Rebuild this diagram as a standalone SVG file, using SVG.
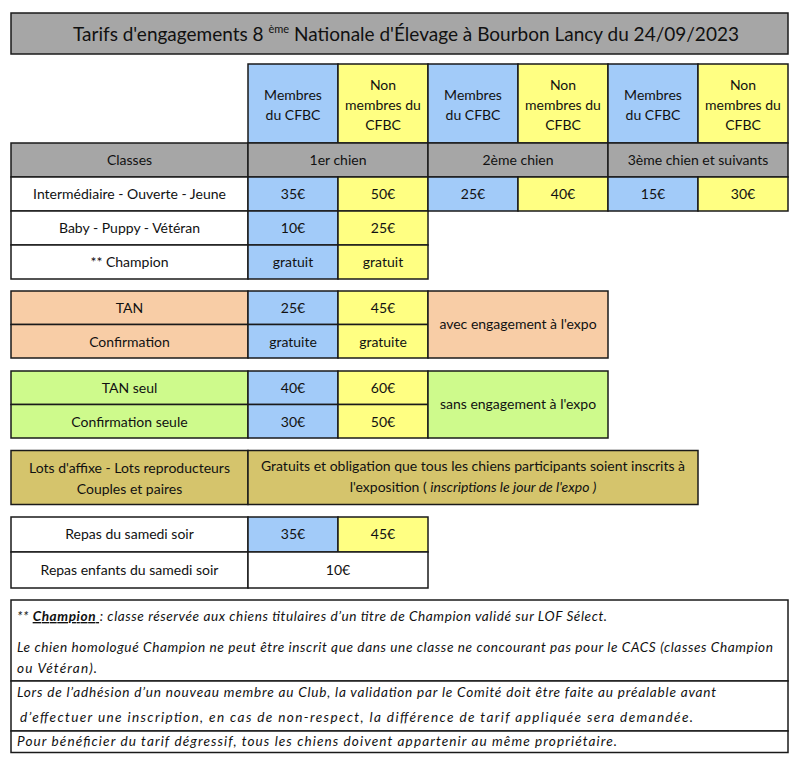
<svg xmlns="http://www.w3.org/2000/svg" width="800" height="764" viewBox="0 0 800 764">
<style>
rect{stroke:#1a1a1a;stroke-width:1.5}
.g{fill:#a6a6a6}.b{fill:#a2cbf9}.y{fill:#ffff82}.w{fill:#ffffff}.o{fill:#f8cda6}.gr{fill:#cefa8c}.ol{fill:#d5c46c}
text{font-family:Lato,"Liberation Sans",sans-serif;font-size:14px;fill:#111;text-anchor:middle}
.n{font-style:italic;text-anchor:start;font-size:13.6px}
.ti{font-size:19px;text-anchor:start}
</style>
<rect x="0" y="0" width="800" height="764" style="fill:#fff;stroke:none"/>
<g id="title">
<rect class="g" x="11" y="13" width="777" height="41"/>
<text class="ti" x="73" y="41">Tarifs d'engagements 8 <tspan font-size="11" dy="-8">ème</tspan><tspan dy="8"> Nationale d'Élevage à Bourbon Lancy du 24/09/2023</tspan></text>
</g>
<g id="header">
<rect class="b" x="248" y="64" width="90" height="79"/>
<rect class="y" x="338" y="64" width="90" height="79"/>
<rect class="b" x="428" y="64" width="90" height="79"/>
<rect class="y" x="518" y="64" width="90" height="79"/>
<rect class="b" x="608" y="64" width="90" height="79"/>
<rect class="y" x="698" y="64" width="90" height="79"/>
<text x="293" y="100">Membres</text><text x="293" y="120">du CFBC</text>
<text x="383" y="90">Non</text><text x="383" y="110">membres du</text><text x="383" y="130">CFBC</text>
<text x="473" y="100">Membres</text><text x="473" y="120">du CFBC</text>
<text x="563" y="90">Non</text><text x="563" y="110">membres du</text><text x="563" y="130">CFBC</text>
<text x="653" y="100">Membres</text><text x="653" y="120">du CFBC</text>
<text x="743" y="90">Non</text><text x="743" y="110">membres du</text><text x="743" y="130">CFBC</text>
</g>
<g id="classes">
<rect class="g" x="11" y="143" width="237" height="34"/>
<rect class="g" x="248" y="143" width="180" height="34"/>
<rect class="g" x="428" y="143" width="180" height="34"/>
<rect class="g" x="608" y="143" width="180" height="34"/>
<text x="129.5" y="165">Classes</text>
<text x="338" y="165">1er chien</text>
<text x="518" y="165">2ème chien</text>
<text x="698" y="165">3ème chien et suivants</text>
</g>
<g id="row-intermediaire">
<rect class="w" x="11" y="177" width="237" height="34"/>
<rect class="b" x="248" y="177" width="90" height="34"/>
<rect class="y" x="338" y="177" width="90" height="34"/>
<rect class="b" x="428" y="177" width="90" height="34"/>
<rect class="y" x="518" y="177" width="90" height="34"/>
<rect class="b" x="608" y="177" width="90" height="34"/>
<rect class="y" x="698" y="177" width="90" height="34"/>
<text x="129.5" y="199">Intermédiaire - Ouverte - Jeune</text>
<text x="293" y="199">35€</text><text x="383" y="199">50€</text>
<text x="473" y="199">25€</text><text x="563" y="199">40€</text>
<text x="653" y="199">15€</text><text x="743" y="199" font-size="15">30€</text>
</g>
<g id="row-baby">
<rect class="w" x="11" y="211" width="237" height="34"/>
<rect class="b" x="248" y="211" width="90" height="34"/>
<rect class="y" x="338" y="211" width="90" height="34"/>
<text x="129.5" y="233">Baby - Puppy - Vétéran</text>
<text x="293" y="233">10€</text><text x="383" y="233">25€</text>
</g>
<g id="row-champion">
<rect class="w" x="11" y="245" width="237" height="34"/>
<rect class="b" x="248" y="245" width="90" height="34"/>
<rect class="y" x="338" y="245" width="90" height="34"/>
<text x="129.5" y="267">** Champion</text>
<text x="293" y="267">gratuit</text><text x="383" y="267">gratuit</text>
</g>
<g id="tan">
<rect class="o" x="11" y="291" width="237" height="33.5"/>
<rect class="o" x="11" y="324.5" width="237" height="33.5"/>
<rect class="b" x="248" y="291" width="90" height="33.5"/>
<rect class="y" x="338" y="291" width="90" height="33.5"/>
<rect class="b" x="248" y="324.5" width="90" height="33.5"/>
<rect class="y" x="338" y="324.5" width="90" height="33.5"/>
<rect class="o" x="428" y="291" width="180" height="67"/>
<text x="129.5" y="313">TAN</text>
<text x="129.5" y="347">Confirmation</text>
<text x="293" y="313">25€</text><text x="383" y="313">45€</text>
<text x="293" y="347">gratuite</text><text x="383" y="347">gratuite</text>
<text x="518" y="329">avec engagement à l'expo</text>
</g>
<g id="tan-seul">
<rect class="gr" x="11" y="371" width="237" height="33.5"/>
<rect class="gr" x="11" y="404.5" width="237" height="33.5"/>
<rect class="b" x="248" y="371" width="90" height="33.5"/>
<rect class="y" x="338" y="371" width="90" height="33.5"/>
<rect class="b" x="248" y="404.5" width="90" height="33.5"/>
<rect class="y" x="338" y="404.5" width="90" height="33.5"/>
<rect class="gr" x="428" y="371" width="180" height="67"/>
<text x="129.5" y="393">TAN seul</text>
<text x="129.5" y="427">Confirmation seule</text>
<text x="293" y="393">40€</text><text x="383" y="393">60€</text>
<text x="293" y="427">30€</text><text x="383" y="427">50€</text>
<text x="518" y="409">sans engagement à l'expo</text>
</g>
<g id="lots">
<rect class="ol" x="11" y="450.5" width="237" height="54"/>
<rect class="ol" x="248" y="450.5" width="450" height="54"/>
<text x="129.5" y="473">Lots d'affixe - Lots reproducteurs</text>
<text x="129.5" y="494">Couples et paires</text>
<text x="473" y="471">Gratuits et obligation que tous les chiens participants soient inscrits à</text>
<text x="473" y="492">l'exposition ( <tspan font-style="italic">inscriptions le jour de l'expo )</tspan></text>
</g>
<g id="repas">
<rect class="w" x="11" y="517" width="237" height="35"/>
<rect class="b" x="248" y="517" width="90" height="35"/>
<rect class="y" x="338" y="517" width="90" height="35"/>
<rect class="w" x="11" y="552" width="237" height="36"/>
<rect class="w" x="248" y="552" width="180" height="36"/>
<text x="129.5" y="539">Repas du samedi soir</text>
<text x="293" y="539">35€</text><text x="383" y="539">45€</text>
<text x="129.5" y="575">Repas enfants du samedi soir</text>
<text x="338" y="575">10€</text>
</g>
<g id="notes">
<rect class="w" x="11" y="600" width="777" height="81"/>
<rect class="w" x="11" y="681" width="777" height="50"/>
<rect class="w" x="11" y="731" width="777" height="21.5"/>
<text class="n" x="17" y="621" textLength="590">** <tspan font-weight="bold" text-decoration="underline">Champion </tspan>: classe réservée aux chiens titulaires d’un titre de Champion validé sur LOF Sélect.</text>
<text class="n" x="17" y="652" textLength="756">Le chien homologué Champion ne peut être inscrit que dans une classe ne concourant pas pour le CACS (classes Champion</text>
<text class="n" x="17" y="673" textLength="80">ou Vétéran).</text>
<text class="n" x="17" y="697" textLength="699">Lors de l’adhésion d’un nouveau membre au Club, la validation par le Comité doit être faite au préalable avant</text>
<text class="n" x="20" y="722" textLength="673">d’effectuer une inscription, en cas de non-respect, la différence de tarif appliquée sera demandée.</text>
<text class="n" x="17" y="746" textLength="600">Pour bénéficier du tarif dégressif, tous les chiens doivent appartenir au même propriétaire.</text>
</g>
</svg>
